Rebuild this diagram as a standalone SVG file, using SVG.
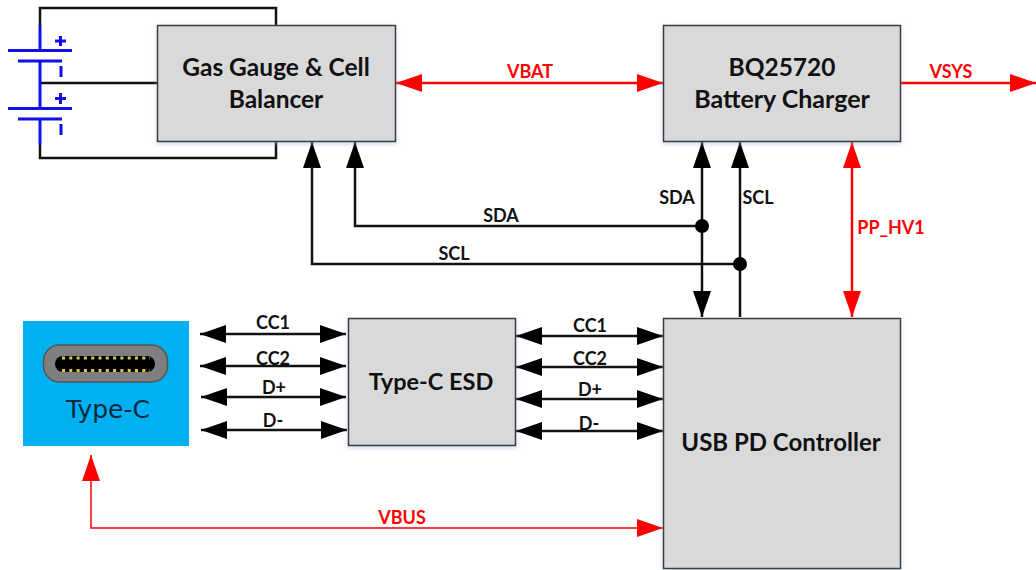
<svg xmlns="http://www.w3.org/2000/svg" width="1036" height="570" viewBox="0 0 1036 570">
<style>
.box{fill:#d9d9d9;stroke:#3a3a3a;stroke-width:1.5;filter:url(#sh)}
.t{font-family:"Lato","Liberation Sans",sans-serif;font-weight:700;fill:#111;text-anchor:middle}
.b{font-size:24.500px}
.s{font-size:18px}
.r{fill:#f00}
.k{fill:none;stroke:#111;stroke-width:2.5}
.kd{fill:none;stroke:#111;stroke-width:2.5;marker-start:url(#ka);marker-end:url(#ka)}
.ke{fill:none;stroke:#111;stroke-width:2.5;marker-end:url(#ka)}
.rd{fill:none;stroke:#f00;stroke-width:2.5;marker-start:url(#ra);marker-end:url(#ra)}
.re{fill:none;stroke:#f00;stroke-width:2.5;marker-end:url(#ra)}
.bl{fill:none;stroke:#1010e8;stroke-width:3}
</style>
<defs>
<filter id="sh" x="-5%" y="-5%" width="110%" height="110%"><feDropShadow dx="0" dy="2" stdDeviation="2" flood-color="#9db4d0" flood-opacity="0.5"/></filter>
<marker id="ka" markerUnits="userSpaceOnUse" markerWidth="26" markerHeight="18" refX="26" refY="9" orient="auto-start-reverse"><path d="M0 0L26 9L0 18Z" fill="#000"/></marker>
<marker id="ra" markerUnits="userSpaceOnUse" markerWidth="26" markerHeight="18" refX="26" refY="9" orient="auto-start-reverse"><path d="M0 0L26 9L0 18Z" fill="#f00"/></marker>
</defs>
<g id="connectors">
<path class="k" d="M40 25V8H276V25M40 145V158H276V141M40 83H157"/>
<path class="rd" d="M396 83H663"/>
<path class="re" d="M901 83H1036"/>
<path class="kd" d="M702 142V317"/>
<path class="ke" d="M740 317V142"/>
<path class="rd" d="M852 142V317"/>
<path class="ke" d="M702 226H355V142"/>
<path class="ke" d="M740 264H312V142"/>
<circle cx="702" cy="226" r="7" fill="#000"/>
<circle cx="740" cy="264" r="7" fill="#000"/>
<path class="kd" d="M200 334H346"/>
<path class="kd" d="M200 366H346"/>
<path class="kd" d="M201 397H346"/>
<path class="kd" d="M201 430H347"/>
<path class="kd" d="M516 336H663"/>
<path class="kd" d="M516 367H663"/>
<path class="kd" d="M516 399H663"/>
<path class="kd" d="M516 431H663"/>
<path d="M91 455V528H663" style="fill:none;stroke:#f00;stroke-width:1.5;marker-start:url(#ra);marker-end:url(#ra)"/>
</g>
<g id="batteries">
<path class="bl" d="M40 25V50M8 50.500H72M18 61H62M40 61V83V108M8 108.500H72M18 119H62M40 119V145"/>
<path class="bl" d="M55 41H66M60.500 36V46M55 98.500H66M60.500 93V104M61 66V77M61 124V135"/>
</g>
<g id="gas-gauge"><rect class="box" x="157.500" y="25.500" width="238" height="116"/><text class="t b" x="276" y="76">Gas Gauge &amp; Cell</text><text class="t b" x="276" y="108">Balancer</text></g>
<g id="charger"><rect class="box" x="663.500" y="25.500" width="237" height="116"/><text class="t b" x="782" y="76" font-size="24">BQ25720</text><text class="t" x="782" y="108" style="font-size:25px">Battery Charger</text></g>
<g id="esd"><rect class="box" x="348.500" y="318.500" width="167" height="127"/><text class="t" x="431" y="390" style="font-size:23.500px">Type-C ESD</text></g>
<g id="pd"><rect class="box" x="663.500" y="318.500" width="237" height="250"/><text class="t" x="781" y="451" style="font-size:24px">USB PD Controller</text></g>
<g id="type-c">
<rect x="23" y="321" width="166" height="125" fill="#00b0f0"/>
<rect x="43.500" y="345" width="124" height="37" rx="16" fill="#7f7f7f" stroke="#555" stroke-width="1.500"/>
<rect x="55" y="356" width="100" height="16" rx="8" fill="#000"/>
<path d="M62 358H150M62 370.500H150" stroke="#d8c84a" stroke-width="3" stroke-dasharray="3 4.300" fill="none"/>
<text x="108" y="418" font-family="DejaVu Sans,sans-serif" font-size="25" fill="#07293d" text-anchor="middle">Type-C</text>
</g>
<g id="labels">
<text class="t s r" x="530" y="78">VBAT</text>
<text class="t s r" x="951" y="78">VSYS</text>
<text class="t s" x="501" y="222">SDA</text>
<text class="t s" x="454" y="260">SCL</text>
<text class="t s" x="677" y="204">SDA</text>
<text class="t s" x="758" y="204">SCL</text>
<text class="t s r" x="891" y="234">PP_HV1</text>
<text class="t s" x="273" y="329">CC1</text>
<text class="t s" x="273" y="365">CC2</text>
<text class="t s" x="274" y="394">D+</text>
<text class="t s" x="273" y="427">D-</text>
<text class="t s" x="590" y="332">CC1</text>
<text class="t s" x="590" y="365">CC2</text>
<text class="t s" x="590" y="396">D+</text>
<text class="t s" x="589" y="430">D-</text>
<text class="t s r" x="402" y="524">VBUS</text>
</g>
</svg>
